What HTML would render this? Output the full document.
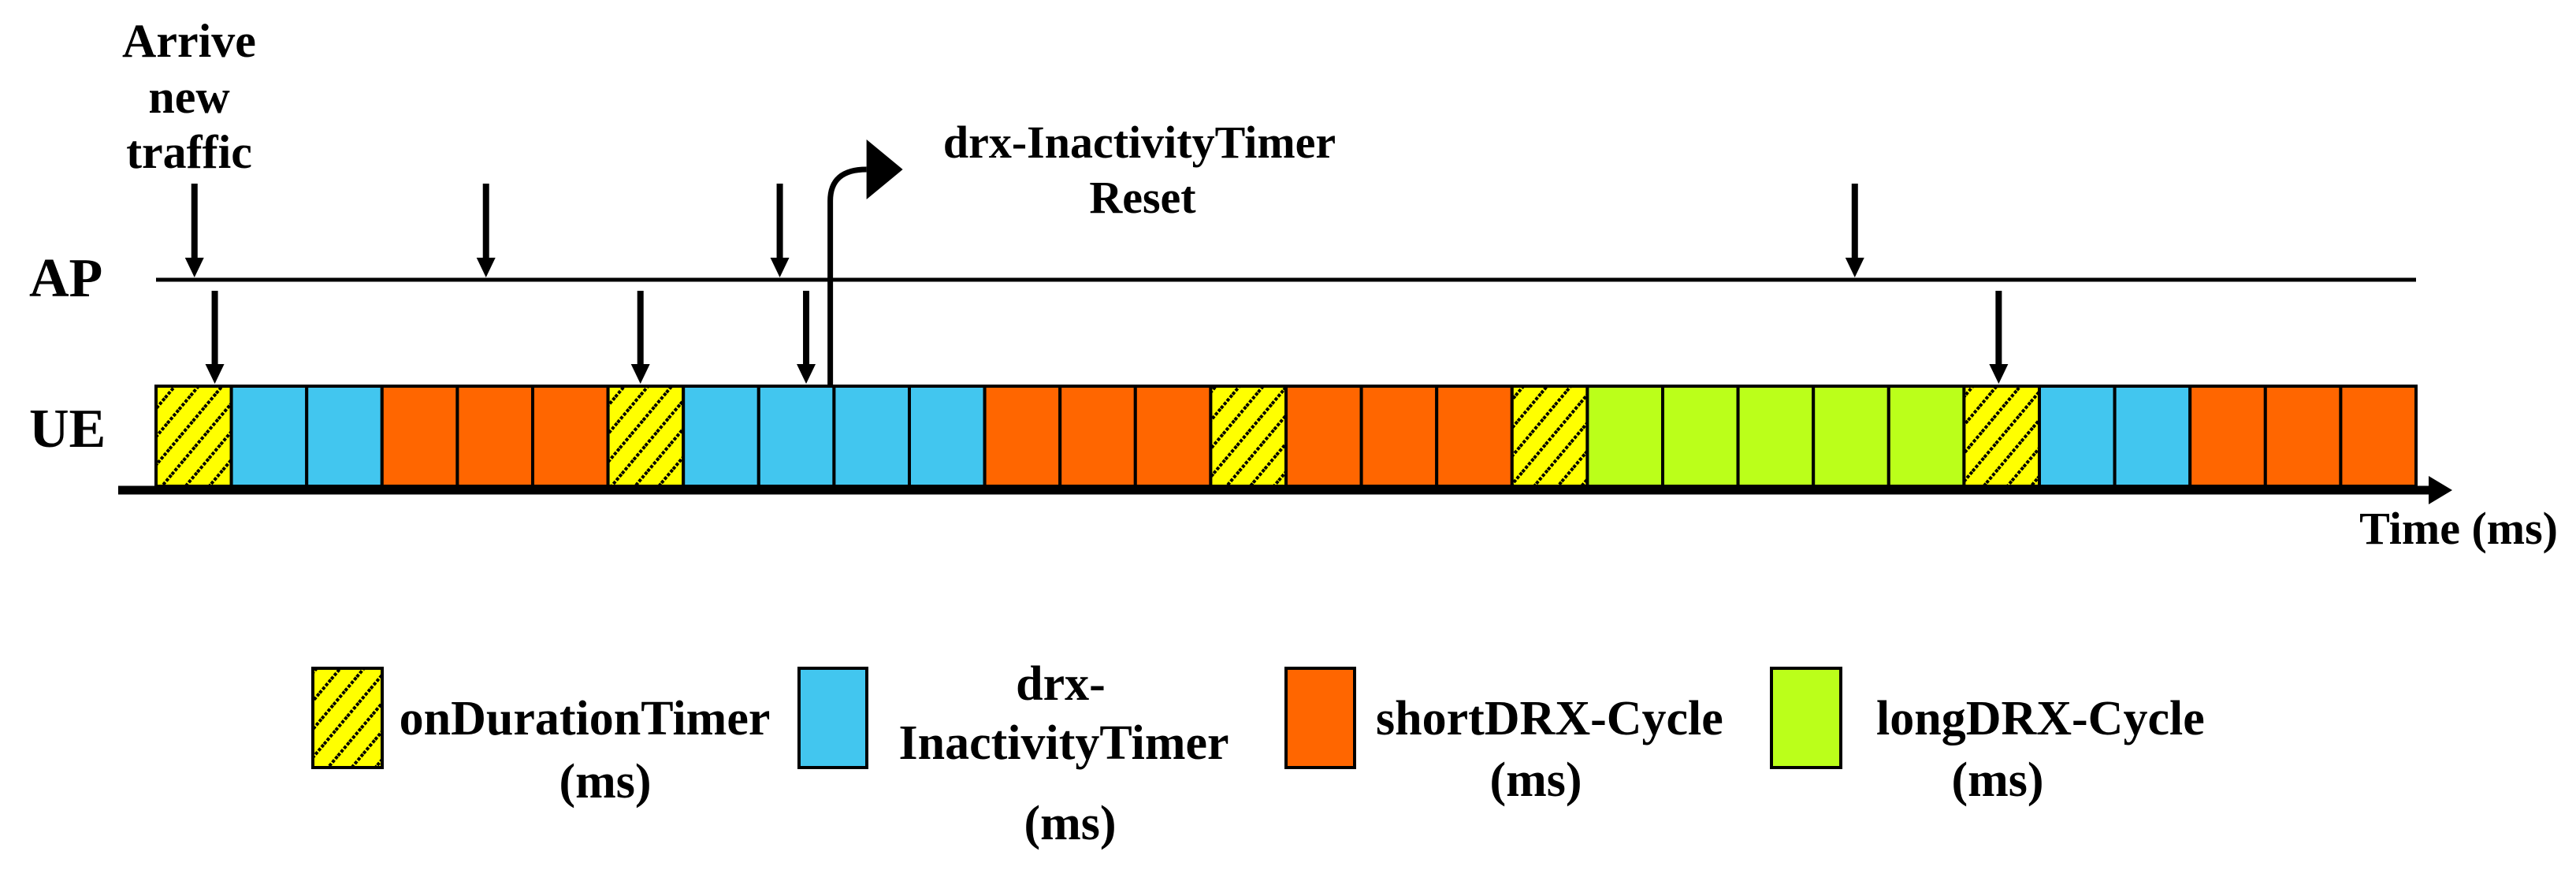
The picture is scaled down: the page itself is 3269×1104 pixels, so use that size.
<!DOCTYPE html>
<html><head><meta charset="utf-8"><style>
html,body{margin:0;padding:0;background:#fff;}
svg{display:block;}
text{font-family:"Liberation Serif",serif;font-weight:bold;fill:#000;}
</style></head><body>
<svg id="chart" width="3269" height="1104" viewBox="0 0 3269 1104">
<defs>
<pattern id="hatch" patternUnits="userSpaceOnUse" width="23" height="23" patternTransform="rotate(40)">
<rect width="23" height="23" fill="#ffff00"/>
<line x1="2" y1="0" x2="2" y2="23" stroke="#000" stroke-width="4" stroke-dasharray="4 2"/>
</pattern>
</defs>
<g id="blocks"></g>
<line x1="198" y1="355" x2="3066" y2="355" stroke="#000" stroke-width="5"/>
<line x1="150" y1="622" x2="3085" y2="622" stroke="#000" stroke-width="11"/>
<polygon points="3082,604 3112,622 3082,640" fill="#000"/>
<g id="arrows"></g>
<path id="reset" fill="none" stroke="#000" stroke-width="7"/>
<polygon id="resetHead" fill="#000"/>
<text x="240" y="72" font-size="60" text-anchor="middle">Arrive</text>
<text x="240" y="143" font-size="60" text-anchor="middle">new</text>
<text x="240" y="213" font-size="60" text-anchor="middle">traffic</text>
<text x="1446" y="200" font-size="58" text-anchor="middle">drx-InactivityTimer</text>
<text x="1450" y="270" font-size="58" text-anchor="middle">Reset</text>
<text x="37" y="376" font-size="70">AP</text>
<text x="37" y="567" font-size="70">UE</text>
<text x="3246" y="690" font-size="58" text-anchor="end">Time (ms)</text>
<g>
<rect x="397" y="848" width="88" height="126" fill="url(#hatch)" stroke="#000" stroke-width="4"/>
<rect x="1014" y="848" width="86" height="126" fill="#42c6ef" stroke="#000" stroke-width="4"/>
<rect x="1632" y="848" width="87" height="126" fill="#ff6600" stroke="#000" stroke-width="4"/>
<rect x="2248" y="848" width="88" height="126" fill="#bbff1a" stroke="#000" stroke-width="4"/>
<text x="742" y="932" font-size="62" text-anchor="middle">onDurationTimer</text>
<text x="768" y="1012" font-size="62" text-anchor="middle">(ms)</text>
<text x="1346" y="888" font-size="62" text-anchor="middle">drx-</text>
<text x="1350" y="963" font-size="62" text-anchor="middle">InactivityTimer</text>
<text x="1358" y="1065" font-size="62" text-anchor="middle">(ms)</text>
<text x="1746" y="932" font-size="62">shortDRX-Cycle</text>
<text x="1949" y="1010" font-size="62" text-anchor="middle">(ms)</text>
<text x="2381" y="932" font-size="62">longDRX-Cycle</text>
<text x="2535" y="1010" font-size="62" text-anchor="middle">(ms)</text>
</g>
</svg>
<script>
const blockTypes = ["on","in","in","sh","sh","sh","on","in","in","in","in","sh","sh","sh","on","sh","sh","sh","on","lg","lg","lg","lg","lg","on","in","in","sh","sh","sh"];
const apArrivals = [0.51, 4.38, 8.28, 22.55];
const ueArrivals = [0.78, 6.43, 8.63, 24.46];
const resetTime = 8.95;
const fills = {on:"url(#hatch)", in:"#42c6ef", sh:"#ff6600", lg:"#bbff1a"};
const NS = "http://www.w3.org/2000/svg";
const x0 = 198, x1 = 3066;
const slotW = (x1 - x0) / blockTypes.length;
function xScale(t){ return x0 + t * slotW; }
const gb = document.getElementById("blocks");
blockTypes.forEach((b, i) => {
  const r = document.createElementNS(NS, "rect");
  r.setAttribute("x", xScale(i)); r.setAttribute("y", 490);
  r.setAttribute("width", slotW); r.setAttribute("height", 127);
  r.setAttribute("fill", fills[b]); r.setAttribute("stroke", "#000"); r.setAttribute("stroke-width", 4);
  
  
  gb.appendChild(r);
});
const ga = document.getElementById("arrows");
function arrow(x, y1, y2, name){
  const l = document.createElementNS(NS, "line");
  l.setAttribute("x1", x); l.setAttribute("x2", x); l.setAttribute("y1", y1); l.setAttribute("y2", y2 - 20);
  l.setAttribute("stroke", "#000"); l.setAttribute("stroke-width", 8);
  
  
  ga.appendChild(l);
  const p = document.createElementNS(NS, "polygon");
  p.setAttribute("points", (x-12)+","+(y2-25)+" "+(x+12)+","+(y2-25)+" "+x+","+y2);
  p.setAttribute("fill", "#000");
  
  
  ga.appendChild(p);
}
apArrivals.forEach(t => arrow(xScale(t), 233, 352, 'ap-arrival-arrow'));
ueArrivals.forEach(t => arrow(xScale(t), 369, 487, 'ue-arrival-arrow'));
const rx = xScale(resetTime);
document.getElementById("reset").setAttribute("d", "M"+rx+",490 L"+rx+",255 Q"+rx+",215 "+(rx+46)+",215");
document.getElementById("resetHead").setAttribute("points", (rx+46)+",177 "+(rx+92)+",215 "+(rx+46)+",253");
</script>
</body></html>
